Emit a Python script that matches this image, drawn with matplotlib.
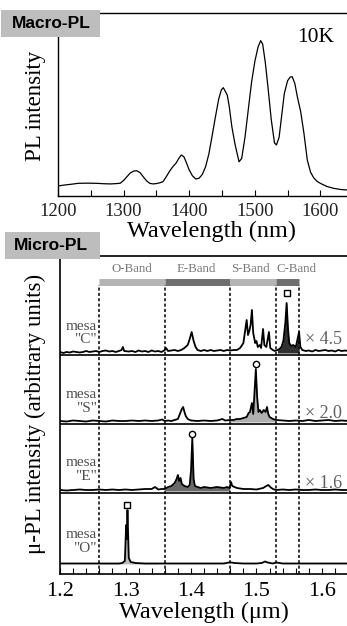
import numpy as np
import matplotlib
matplotlib.use("Agg")
import matplotlib.pyplot as plt
from matplotlib.patches import Rectangle
from matplotlib.ticker import MultipleLocator

plt.rcParams['font.family'] = ['Liberation Serif', 'DejaVu Serif']

# ---------------- data ----------------
# Macro-PL spectrum (10K), wavelength in nm, intensity normalised
macro_wl = [1200, 1210, 1220, 1230, 1240, 1250, 1260, 1270, 1280, 1290, 1295, 1300,
            1305, 1310, 1315, 1320, 1325, 1330, 1335, 1340, 1345, 1350, 1355, 1360,
            1365, 1370, 1375, 1380, 1385, 1388, 1392, 1396, 1400, 1405, 1410, 1415,
            1420, 1425, 1430, 1435, 1440, 1445, 1449, 1452, 1455, 1458, 1461, 1465,
            1470, 1476, 1480, 1485, 1490, 1495, 1500, 1505, 1509, 1512, 1516, 1520,
            1525, 1530, 1533, 1537, 1541, 1545, 1550, 1554, 1557, 1561, 1565, 1570,
            1575, 1580, 1585, 1590, 1595, 1600, 1610, 1620, 1630, 1640]
macro_int = [0.055, 0.060, 0.064, 0.069, 0.070, 0.070, 0.069, 0.067, 0.066, 0.068, 0.070, 0.085,
             0.105, 0.125, 0.136, 0.138, 0.128, 0.105, 0.083, 0.069, 0.066, 0.068, 0.072, 0.078,
             0.105, 0.135, 0.160, 0.180, 0.210, 0.224, 0.214, 0.180, 0.142, 0.110, 0.093, 0.097,
             0.118, 0.160, 0.230, 0.330, 0.433, 0.530, 0.580, 0.592, 0.572, 0.552, 0.490, 0.379,
             0.280, 0.187, 0.205, 0.320, 0.470, 0.620, 0.734, 0.815, 0.849, 0.830, 0.730, 0.597,
             0.420, 0.290, 0.279, 0.320, 0.440, 0.560, 0.630, 0.650, 0.652, 0.615, 0.540, 0.460,
             0.340, 0.197, 0.130, 0.098, 0.080, 0.069, 0.052, 0.042, 0.036, 0.033]

# micro-PL spectra (wavelength in um, intensity in arbitrary units, already multiplied)
C_wl = [1.200, 1.205, 1.210, 1.215, 1.220, 1.225, 1.230, 1.235, 1.240, 1.245, 1.250, 1.255,
        1.260, 1.265, 1.270, 1.275, 1.280, 1.285, 1.290, 1.294, 1.296, 1.298, 1.305, 1.310,
        1.315, 1.320, 1.325, 1.330, 1.335, 1.340, 1.345, 1.350, 1.355, 1.360, 1.362, 1.365,
        1.370, 1.375, 1.380, 1.385, 1.390, 1.395, 1.398, 1.401, 1.404, 1.407, 1.410, 1.415,
        1.420, 1.425, 1.430, 1.435, 1.440, 1.445, 1.450, 1.455, 1.460, 1.465, 1.470, 1.475,
        1.480, 1.483, 1.485, 1.487, 1.489, 1.491, 1.493, 1.495, 1.498, 1.500, 1.502, 1.505,
        1.507, 1.510, 1.512, 1.515, 1.519, 1.521, 1.525, 1.528, 1.532, 1.535, 1.538, 1.541,
        1.544, 1.546, 1.548, 1.550, 1.553, 1.556, 1.560, 1.565, 1.567, 1.570, 1.575, 1.580,
        1.585, 1.590, 1.595, 1.600, 1.605, 1.610, 1.615, 1.620, 1.625, 1.630, 1.635, 1.640]
C_int = [1.0, 0.0, 1.0, 0.5, 1.5, 1.0, 0.5, 1.0, 2.0, 1.0, 1.5, 2.0,
         1.0, 2.0, 2.5, 1.5, 2.0, 1.0, 2.0, 3.0, 6.0, 2.0, 1.5, 2.0,
         1.0, 2.5, 1.5, 2.0, 1.0, 2.5, 1.5, 2.0, 1.0, 3.0, 5.0, 2.0,
         2.5, 3.0, 2.0, 3.0, 5.0, 8.0, 14.0, 21.0, 12.0, 6.0, 3.0, 2.0,
         3.0, 2.0, 3.0, 2.0, 2.5, 3.0, 2.0, 3.0, 2.5, 3.0, 3.0, 5.0,
         10.0, 24.0, 33.0, 18.0, 22.0, 28.0, 43.0, 20.0, 10.0, 12.0, 6.0, 8.0,
         5.0, 24.0, 8.0, 6.0, 21.0, 5.0, 3.0, 2.0, 3.0, 4.0, 6.0, 12.0,
         30.0, 50.0, 25.0, 10.0, 7.0, 8.0, 6.0, 21.0, 6.0, 3.0, 2.0, 2.5,
         1.5, 3.0, 2.0, 2.5, 3.0, 2.0, 2.5, 1.5, 3.0, 2.0, 2.5, 2.0]

S_wl = [1.200, 1.210, 1.220, 1.230, 1.240, 1.250, 1.260, 1.270, 1.280, 1.290, 1.300, 1.310,
        1.320, 1.330, 1.340, 1.350, 1.356, 1.360, 1.365, 1.370, 1.375, 1.380, 1.383, 1.386,
        1.388, 1.390, 1.392, 1.395, 1.400, 1.410, 1.420, 1.430, 1.440, 1.448, 1.452, 1.460,
        1.465, 1.470, 1.475, 1.480, 1.485, 1.488, 1.490, 1.493, 1.495, 1.497, 1.499, 1.501,
        1.503, 1.505, 1.508, 1.511, 1.514, 1.516, 1.518, 1.520, 1.525, 1.530, 1.540, 1.550,
        1.560, 1.570, 1.580, 1.590, 1.600, 1.610, 1.620, 1.630, 1.640]
S_int = [1.0, 0.5, 1.5, 1.0, 0.5, 1.5, 1.0, 0.5, 1.5, 1.0, 1.0, 1.5,
         1.0, 1.5, 1.0, 1.5, 2.5, 1.0, 1.5, 1.0, 2.0, 3.0, 8.0, 13.0,
         15.0, 10.0, 6.0, 3.0, 1.5, 1.0, 1.5, 1.0, 1.5, 3.0, 1.5, 2.0,
         2.0, 3.0, 3.0, 4.0, 5.0, 9.0, 10.0, 19.0, 8.0, 30.0, 53.0, 25.0,
         10.0, 12.0, 9.0, 12.0, 10.0, 15.0, 8.0, 5.0, 3.0, 2.0, 1.5, 1.0,
         1.5, 1.0, 2.0, 1.0, 1.5, 2.0, 1.0, 1.5, 1.0]

E_wl = [1.200, 1.210, 1.220, 1.230, 1.240, 1.250, 1.260, 1.270, 1.280, 1.290, 1.300, 1.310,
        1.320, 1.330, 1.340, 1.345, 1.350, 1.355, 1.360, 1.365, 1.370, 1.375, 1.378, 1.380,
        1.382, 1.384, 1.386, 1.390, 1.395, 1.398, 1.400, 1.402, 1.404, 1.406, 1.410, 1.415,
        1.420, 1.430, 1.440, 1.450, 1.455, 1.459, 1.461, 1.463, 1.470, 1.480, 1.490, 1.500,
        1.510, 1.515, 1.518, 1.521, 1.525, 1.530, 1.540, 1.550, 1.560, 1.570, 1.580, 1.590,
        1.600, 1.610, 1.620, 1.630, 1.640]
E_int = [1.0, 0.5, 1.0, 1.5, 1.0, 1.0, 1.5, 1.0, 1.5, 1.0, 1.5, 1.0,
         1.5, 2.0, 2.0, 4.0, 1.5, 2.0, 2.0, 4.0, 5.0, 8.0, 12.0, 16.0,
         10.0, 13.0, 7.0, 5.0, 4.0, 6.0, 20.0, 53.0, 12.0, 5.0, 4.0, 3.0,
         4.0, 3.0, 4.0, 3.0, 4.0, 3.0, 9.0, 5.0, 3.0, 2.0, 2.0, 1.5,
         3.0, 5.0, 6.0, 4.0, 2.0, 1.0, 1.5, 1.0, 1.5, 1.0, 1.0, 1.5,
         1.0, 1.0, 1.5, 1.0, 1.0]

O_wl = [1.200, 1.220, 1.240, 1.260, 1.280, 1.290, 1.295, 1.299, 1.301, 1.302, 1.303, 1.305,
        1.308, 1.315, 1.330, 1.350, 1.380, 1.420, 1.450, 1.458, 1.462, 1.466, 1.480, 1.500,
        1.508, 1.513, 1.517, 1.525, 1.530, 1.540, 1.570, 1.600, 1.620, 1.640]
O_int = [0.5, 0.5, 0.5, 0.5, 0.5, 0.5, 1.0, 3.0, 39.0, 25.0, 54.0, 6.0,
         2.0, 1.0, 0.5, 0.5, 0.5, 0.5, 0.5, 1.5, 1.5, 1.0, 0.5, 0.5,
         1.0, 2.5, 1.5, 0.5, 1.5, 0.5, 0.5, 0.5, 0.5, 0.5]

multipliers = ["× 4.5", "× 2.0", "× 1.6", ""]
mesa_names = ['"C"', '"S"', '"E"', '"O"']
band_names = ["O-Band", "E-Band", "S-Band", "C-Band"]
band_edges = [1.26, 1.36, 1.46, 1.53, 1.565]
peak_markers = ["s", "o", "o", "s"]
peak_wl = [1.546, 1.499, 1.402, 1.303]

# ---------------- layout helpers ----------------
W, H = 347, 626
fig = plt.figure(figsize=(W / 100, H / 100), dpi=100)

def fx(px):
    return px / W

def fy(py):
    return 1 - py / H

# ---------------- top panel ----------------
ax1 = fig.add_axes([fx(58), fy(196), fx(347) - fx(58), fy(13) - fy(196)])
ax1.plot(macro_wl, macro_int, color='black', lw=0.9)
ax1.set_xlim(1200, 1200 + (347 - 58) / 0.656)
ax1.set_ylim(0, 1)
ax1.spines['right'].set_visible(False)
for s in ['left', 'top', 'bottom']:
    ax1.spines[s].set_linewidth(1.0)
ax1.set_yticks([])
ax1.xaxis.set_major_locator(MultipleLocator(100))
ax1.xaxis.set_minor_locator(MultipleLocator(50))
ax1.tick_params(axis='x', which='both', direction='in', length=4, width=0.8,
                labelsize=13.5, pad=5, labelcolor='#222222')
ax1.set_xticks([1200, 1300, 1400, 1500, 1600])

fig.text(fx(35), fy(106), "PL intensity", rotation=90, ha='center', va='center', fontsize=16.5)
fig.text(fx(212), fy(231), "Wavelength (nm)", ha='center', va='center', fontsize=17.5)
fig.text(fx(316), fy(38), "10K", ha='center', va='center', fontsize=15.5)

# ---------------- bottom panel ----------------
y_bot, y_top = 574, 256
ax2 = fig.add_axes([fx(60), fy(y_bot), fx(347) - fx(60), fy(y_top) - fy(y_bot)])
ax2.set_xlim(1.2, 1.2 + (347 - 60) / 655)
ax2.set_ylim(0, y_bot - y_top)
ax2.spines['right'].set_visible(False)
for s in ['left', 'top', 'bottom']:
    ax2.spines[s].set_linewidth(1.2)
ax2.set_yticks([])
ax2.xaxis.set_major_locator(MultipleLocator(0.1))
ax2.xaxis.set_minor_locator(MultipleLocator(0.02))
ax2.tick_params(axis='x', which='both', direction='in', length=4, width=0.8,
                labelsize=16, pad=6)
ax2.set_xticks([1.2, 1.3, 1.4, 1.5, 1.6])
ax2.set_xticklabels(["1.2", "1.3", "1.4", "1.5", "1.6"])

def yp(py):
    return y_bot - py

def xd(px):
    return 1.2 + (px - 60) / 655

light, dark = '#b4b4b4', '#6e6e6e'
band_colors = [light, dark, light, dark]
band_label_px = [132, 196, 250, 297]
fill_colors = ['#303030', '#b0b0b0', '#6a6a6a', '#bcbcbc']
fill_bands = [(1.53, 1.565), (1.46, 1.53), (1.36, 1.46), (1.26, 1.36)]

# band bars and labels
for i, name in enumerate(band_names):
    a, b = band_edges[i], band_edges[i + 1]
    ax2.plot([a, b], [yp(282), yp(282)], color=band_colors[i], lw=5, solid_capstyle='butt')
    ax2.text(xd(band_label_px[i]), yp(269), name, ha='center', va='center', fontsize=9.3,
             color='#7a7a7a')

# dashed band edges
for e in band_edges:
    ax2.plot([e, e], [0, yp(285)], color='black', lw=1.1, ls=(0, (2.0, 1.5)))

# separators
for py in [355, 424, 493]:
    ax2.axhline(yp(py), color='black', lw=1.2)

traces = [(C_wl, C_int), (S_wl, S_int), (E_wl, E_int), (O_wl, O_int)]
baselines = [353, 422, 491, 564]
marker_y = [293, 364, 434, 505]
mesa_y = [333.5, 401.5, 469.5, 541.5]
mult_y = [339, 413, 483]

for i, (wl, inten) in enumerate(traces):
    wl = np.array(wl)
    inten = np.array(inten)
    base = yp(baselines[i])
    a, b = fill_bands[i]
    mask = (wl >= a - 1e-9) & (wl <= b + 1e-9)
    ax2.fill_between(wl, base, base + inten, where=mask, color=fill_colors[i], lw=0)
    ax2.plot(wl, base + inten, color='black', lw=1.3)
    ax2.plot([peak_wl[i]], [yp(marker_y[i])], marker=peak_markers[i], ms=4.5,
             mfc='white', mec='black', mew=1.0, ls='none')
    fig.text(fx(97), fy(mesa_y[i]), "mesa\n" + mesa_names[i], ha='right', va='center',
             multialignment='right', fontsize=11, linespacing=1.0, color='#505050')
    if multipliers[i]:
        fig.text(fx(305), fy(mult_y[i]), multipliers[i], ha='left', va='center', fontsize=13, color='#606060')

fig.text(fx(35), fy(414), "μ-PL intensity (arbitrary units)", rotation=90, ha='center', va='center', fontsize=16.5)
fig.text(fx(204), fy(612), "Wavelength (μm)", ha='center', va='center', fontsize=17.5)

# ---------------- labels boxes ----------------
fig.patches.append(Rectangle((fx(1), fy(37)), fx(100) - fx(1), fy(10) - fy(37),
                             transform=fig.transFigure, facecolor='#bdbdbd', edgecolor='none', zorder=5))
fig.text(fx(51), fy(23.5), "Macro-PL", ha='center', va='center', fontsize=12.5, fontweight='bold',
         family='Liberation Sans', zorder=6)
fig.patches.append(Rectangle((fx(5), fy(259)), fx(100) - fx(5), fy(232) - fy(259),
                             transform=fig.transFigure, facecolor='#bdbdbd', edgecolor='none', zorder=5))
fig.text(fx(51), fy(245.5), "Micro-PL", ha='center', va='center', fontsize=12.5, fontweight='bold',
         family='Liberation Sans', zorder=6)

fig.savefig("out.png", dpi=100)
